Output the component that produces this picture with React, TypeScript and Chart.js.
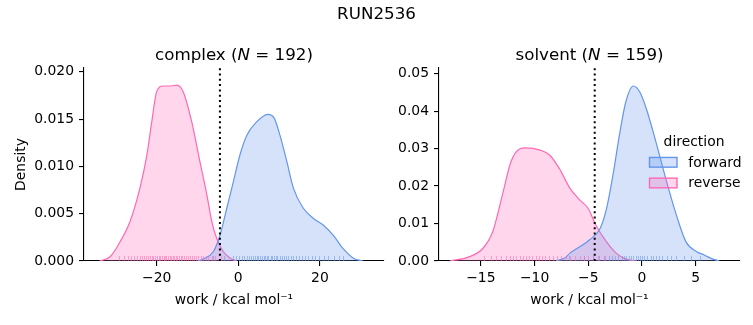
import React, { useEffect, useRef } from "react";
import { Chart, registerables } from "chart.js";

Chart.register(...registerables);

const W = 753;
const H = 325;
const FONT = "DejaVu Sans";

// ---------- text ----------
const suptitle = "RUN2536";
const legendTitle = "direction";
const directionLabels = ["forward", "reverse"];
const xAxisTitle = "work / kcal mol\u207B\u00B9";
const yAxisTitle = "Density";

// ---------- complex panel ----------
const complexName = "complex";
const complexN = 192;
const complexThreshold = -4.5;
const complexTicksX = [-20, 0, 20];
const complexTicksY = [0, 0.005, 0.01, 0.015, 0.02];
const complexForwardX = [-10, -8.6, -6.1, -4.5, -2.8, -1.2, 0.4, 2.1, 4.5, 7.2, 8.8, 10.2, 11.9, 13.5, 15.9, 18.4, 20.8, 23.3, 25.7, 28.2, 30.6];
const complexForwardY = [0, 0.0002, 0.001, 0.0027, 0.0056, 0.0084, 0.0112, 0.0133, 0.0147, 0.0155, 0.0151, 0.0133, 0.0105, 0.0077, 0.0056, 0.0045, 0.0038, 0.0027, 0.0013, 0.0003, 0];
const complexReverseX = [-34, -31.4, -29.0, -26.5, -24.1, -22.4, -21.2, -20.0, -18.4, -16.5, -15.1, -13.5, -11.4, -9.4, -7.7, -6.5, -5.3, -3.7, -2.0, -0.4];
const complexReverseY = [0, 0.00045, 0.002, 0.0042, 0.0077, 0.0112, 0.0147, 0.0179, 0.0185, 0.0185, 0.0186, 0.0179, 0.0147, 0.0105, 0.007, 0.0042, 0.0024, 0.001, 0.0003, 0];
const complexForwardRug = [-6.2, -3.5, -1.4, -0.6, 0.2, 0.9, 1.5, 2.1, 2.6, 3.1, 3.6, 4.0, 4.5, 4.9, 5.3, 5.8, 6.2, 6.6, 7.0, 7.4, 7.9, 8.3, 8.7, 9.2, 9.6, 10.1, 10.6, 11.1, 11.7, 12.2, 12.8, 13.4, 14.1, 14.8, 15.6, 16.3, 17.2, 18.0, 18.9, 19.8, 20.9, 22.1, 23.4, 24.6, 25.6];
const complexReverseRug = [-29.2, -28.1, -27.0, -26.2, -25.5, -24.8, -24.1, -23.6, -23.0, -22.5, -22.1, -21.6, -21.2, -20.8, -20.3, -19.9, -19.5, -19.1, -18.7, -18.3, -17.9, -17.6, -17.2, -16.8, -16.4, -16.0, -15.7, -15.3, -14.9, -14.5, -14.1, -13.7, -13.2, -12.8, -12.3, -11.9, -11.4, -10.9, -10.4, -9.8, -9.2, -8.6, -8.0, -7.3, -6.5, -5.6, -4.2];

// ---------- solvent panel ----------
const solventName = "solvent";
const solventN = 159;
const solventThreshold = -4.4;
const solventTicksX = [-15, -10, -5, 0, 5];
const solventTicksY = [0, 0.01, 0.02, 0.03, 0.04, 0.05];
const solventForwardX = [-8.0, -7.2, -6.7, -5.8, -4.9, -3.9, -3.3, -2.7, -2.1, -1.5, -0.8, -0.2, 0.4, 1.3, 2.3, 3.2, 4.1, 5.1, 5.8, 6.6, 7.2];
const solventForwardY = [0, 0.0008, 0.0021, 0.0038, 0.0056, 0.0087, 0.014, 0.0229, 0.0336, 0.0425, 0.0467, 0.0451, 0.0407, 0.0318, 0.0211, 0.0123, 0.0051, 0.0025, 0.0016, 0.0005, 0];
const solventReverseX = [-17.9, -16.1, -14.8, -13.9, -13.0, -12.2, -11.4, -10.8, -9.5, -8.6, -7.7, -6.7, -5.8, -5.0, -4.3, -3.3, -2.4, -1.5, -0.5];
const solventReverseY = [0, 0.0011, 0.0034, 0.0078, 0.0176, 0.0265, 0.0299, 0.0302, 0.0296, 0.0283, 0.0247, 0.0194, 0.0163, 0.014, 0.0096, 0.0051, 0.0021, 0.0005, 0];
const solventForwardRug = [-6.8, -5.4, -4.6, -4.0, -3.5, -3.1, -2.8, -2.5, -2.2, -1.9, -1.7, -1.5, -1.2, -1.0, -0.8, -0.6, -0.4, -0.2, 0.0, 0.2, 0.5, 0.8, 1.0, 1.3, 1.6, 1.9, 2.3, 2.7, 3.2, 3.9, 4.6, 5.4];
const solventReverseRug = [-14.7, -14.1, -13.6, -13.1, -12.7, -12.3, -12.0, -11.7, -11.4, -11.1, -10.8, -10.5, -10.2, -9.9, -9.6, -9.3, -9.0, -8.7, -8.3, -7.9, -7.5, -7.1, -6.7, -6.2, -5.8, -5.4, -5.0, -4.6, -4.1, -3.4];

// ---------- styles ----------
const BLUE = "rgb(100,149,237)";
const BLUE_FILL = "rgba(100,149,237,0.27)";
const BLUE_RUG = "rgba(100,149,237,0.55)";
const PINK = "rgb(255,105,180)";
const PINK_FILL = "rgba(255,105,180,0.27)";
const PINK_RUG = "rgba(255,105,180,0.55)";
const TICK_SIZE = 13.9;
const TITLE_SIZE = 16.7;

const fmtX = (v: number) => (v < 0 ? "\u2212" + Math.abs(v) : String(v));

interface Panel {
  name: string;
  n: number;
  threshold: number;
  xMin: number;
  xMax: number;
  yMax: number;
  xTicks: number[];
  yTicks: number[];
  yDecimals: number;
  fx: number[];
  fy: number[];
  rx: number[];
  ry: number[];
  fRug: number[];
  rRug: number[];
  padLeft: number;
  padRight: number;
  yWidth: number;
  showYTitle: boolean;
  suptitle: boolean;
  legend: boolean;
}

const zip = (xs: number[], ys: number[]) => xs.map((x, i) => ({ x, y: ys[i] }));

function extrasPlugin(p: Panel) {
  return {
    id: "extras",
    afterDatasetsDraw(chart: any) {
      const { ctx, chartArea, scales } = chart;
      const xs = scales.x;
      ctx.save();
      const rugs = [
        { values: p.fRug, color: BLUE_RUG },
        { values: p.rRug, color: PINK_RUG },
      ];
      ctx.lineWidth = 1;
      rugs.forEach((r) => {
        ctx.strokeStyle = r.color;
        r.values.forEach((v) => {
          const px = Math.round(xs.getPixelForValue(v)) + 0.5;
          ctx.beginPath();
          ctx.moveTo(px, chartArea.bottom);
          ctx.lineTo(px, chartArea.bottom - 5);
          ctx.stroke();
        });
      });
      const lx = xs.getPixelForValue(p.threshold);
      ctx.strokeStyle = "#000";
      ctx.lineWidth = 2;
      ctx.setLineDash([2, 3.3]);
      ctx.beginPath();
      ctx.moveTo(lx, chartArea.bottom);
      ctx.lineTo(lx, chartArea.top);
      ctx.stroke();
      ctx.restore();
    },
    afterDraw(chart: any) {
      const { ctx, chartArea } = chart;
      ctx.save();
      ctx.fillStyle = "#000";
      ctx.textBaseline = "alphabetic";
      // subplot title with italic N
      const parts = [
        { t: p.name + " (", f: `${TITLE_SIZE}px "${FONT}"` },
        { t: "N", f: `oblique ${TITLE_SIZE}px "${FONT}"` },
        { t: " = " + p.n + ")", f: `${TITLE_SIZE}px "${FONT}"` },
      ];
      let total = 0;
      parts.forEach((pt) => {
        ctx.font = pt.f;
        total += ctx.measureText(pt.t).width;
      });
      let x = (chartArea.left + chartArea.right) / 2 - total / 2;
      const by = chartArea.top - 8.3;
      ctx.textAlign = "left";
      parts.forEach((pt) => {
        ctx.font = pt.f;
        ctx.fillText(pt.t, x, by);
        x += ctx.measureText(pt.t).width;
      });
      if (p.suptitle) {
        ctx.font = `${TITLE_SIZE}px "${FONT}"`;
        ctx.textAlign = "center";
        ctx.fillText(suptitle, W / 2, 19);
      }
      if (p.legend) {
        ctx.font = `${TICK_SIZE}px "${FONT}"`;
        ctx.textAlign = "center";
        ctx.fillText(legendTitle, 694, 146);
        const ds = chart.data.datasets;
        ds.forEach((d: any, i: number) => {
          const cy = 162.3 + i * 20.7;
          ctx.fillStyle = d.backgroundColor;
          ctx.fillRect(649.5, cy - 4.85, 27.5, 9.7);
          ctx.strokeStyle = d.borderColor;
          ctx.lineWidth = 1.4;
          ctx.strokeRect(649.5, cy - 4.85, 27.5, 9.7);
          ctx.fillStyle = "#000";
          ctx.textAlign = "left";
          ctx.fillText(d.label, 688.3, cy + 4.3);
        });
      }
      ctx.restore();
    },
  };
}

function makeConfig(p: Panel): any {
  const font = { family: FONT, size: TICK_SIZE };
  return {
    type: "line",
    data: {
      datasets: [
        {
          label: directionLabels[0],
          data: zip(p.fx, p.fy),
          borderColor: BLUE,
          backgroundColor: BLUE_FILL,
          fill: "origin",
        },
        {
          label: directionLabels[1],
          data: zip(p.rx, p.ry),
          borderColor: PINK,
          backgroundColor: PINK_FILL,
          fill: "origin",
        },
      ],
    },
    options: {
      responsive: false,
      animation: false,
      devicePixelRatio: 1,
      layout: { padding: { top: 68, left: p.padLeft, right: p.padRight, bottom: 0 } },
      plugins: {
        legend: { display: false },
        tooltip: { enabled: false },
        title: { display: false },
      },
      elements: {
        point: { radius: 0 },
        line: { borderWidth: 1.2, cubicInterpolationMode: "monotone" },
      },
      scales: {
        x: {
          type: "linear",
          min: p.xMin,
          max: p.xMax,
          afterBuildTicks: (a: any) => {
            a.ticks = p.xTicks.map((v) => ({ value: v }));
          },
          afterFit: (a: any) => {
            a.height = 64;
          },
          grid: {
            display: true,
            drawOnChartArea: false,
            drawTicks: true,
            tickLength: 5,
            color: "#000",
            lineWidth: 1.1,
          },
          border: { display: true, color: "#000", width: 1.1 },
          ticks: {
            font,
            color: "#000",
            padding: 4,
            maxRotation: 0,
            autoSkip: false,
            callback: (v: number) => fmtX(v),
          },
          title: {
            display: true,
            text: xAxisTitle,
            font,
            color: "#000",
            padding: { top: 0, bottom: 16.7 },
          },
        },
        y: {
          type: "linear",
          min: 0,
          max: p.yMax,
          afterBuildTicks: (a: any) => {
            a.ticks = p.yTicks.map((v) => ({ value: v }));
          },
          afterFit: (a: any) => {
            a.width = p.yWidth;
          },
          grid: {
            display: true,
            drawOnChartArea: false,
            drawTicks: true,
            tickLength: 5,
            color: "#000",
            lineWidth: 1.1,
          },
          border: { display: true, color: "#000", width: 1.1 },
          ticks: {
            font,
            color: "#000",
            padding: 5,
            autoSkip: false,
            callback: (v: number) => v.toFixed(p.yDecimals),
          },
          title: {
            display: p.showYTitle,
            text: yAxisTitle,
            font,
            color: "#000",
            padding: { top: 13.4, bottom: 0 },
          },
        },
      },
    },
    plugins: [extrasPlugin(p)],
  };
}

const complexPanel: Panel = {
  name: complexName,
  n: complexN,
  threshold: complexThreshold,
  xMin: -37.8,
  xMax: 35.7,
  yMax: 0.0204,
  xTicks: complexTicksX,
  yTicks: complexTicksY,
  yDecimals: 3,
  fx: complexForwardX,
  fy: complexForwardY,
  rx: complexReverseX,
  ry: complexReverseY,
  fRug: complexForwardRug,
  rRug: complexReverseRug,
  padLeft: 0,
  padRight: W - 384,
  yWidth: 84,
  showYTitle: true,
  suptitle: true,
  legend: false,
};

const solventPanel: Panel = {
  name: solventName,
  n: solventN,
  threshold: solventThreshold,
  xMin: -18.9,
  xMax: 9.13,
  yMax: 0.0515,
  xTicks: solventTicksX,
  yTicks: solventTicksY,
  yDecimals: 2,
  fx: solventForwardX,
  fy: solventForwardY,
  rx: solventReverseX,
  ry: solventReverseY,
  fRug: solventForwardRug,
  rRug: solventReverseRug,
  padLeft: 439 - 55,
  padRight: W - 740,
  yWidth: 55,
  showYTitle: false,
  suptitle: false,
  legend: true,
};

export default function App() {
  const ref1 = useRef<HTMLCanvasElement>(null);
  const ref2 = useRef<HTMLCanvasElement>(null);
  useEffect(() => {
    const c1 = new Chart(ref1.current as HTMLCanvasElement, makeConfig(complexPanel));
    const c2 = new Chart(ref2.current as HTMLCanvasElement, makeConfig(solventPanel));
    return () => {
      c1.destroy();
      c2.destroy();
    };
  }, []);
  return (
    <div style={{ position: "fixed", left: 0, top: 0, width: W, height: H, background: "#fff" }}>
      <canvas ref={ref1} width={W} height={H} style={{ position: "absolute", left: 0, top: 0 }} />
      <canvas ref={ref2} width={W} height={H} style={{ position: "absolute", left: 0, top: 0 }} />
    </div>
  );
}
